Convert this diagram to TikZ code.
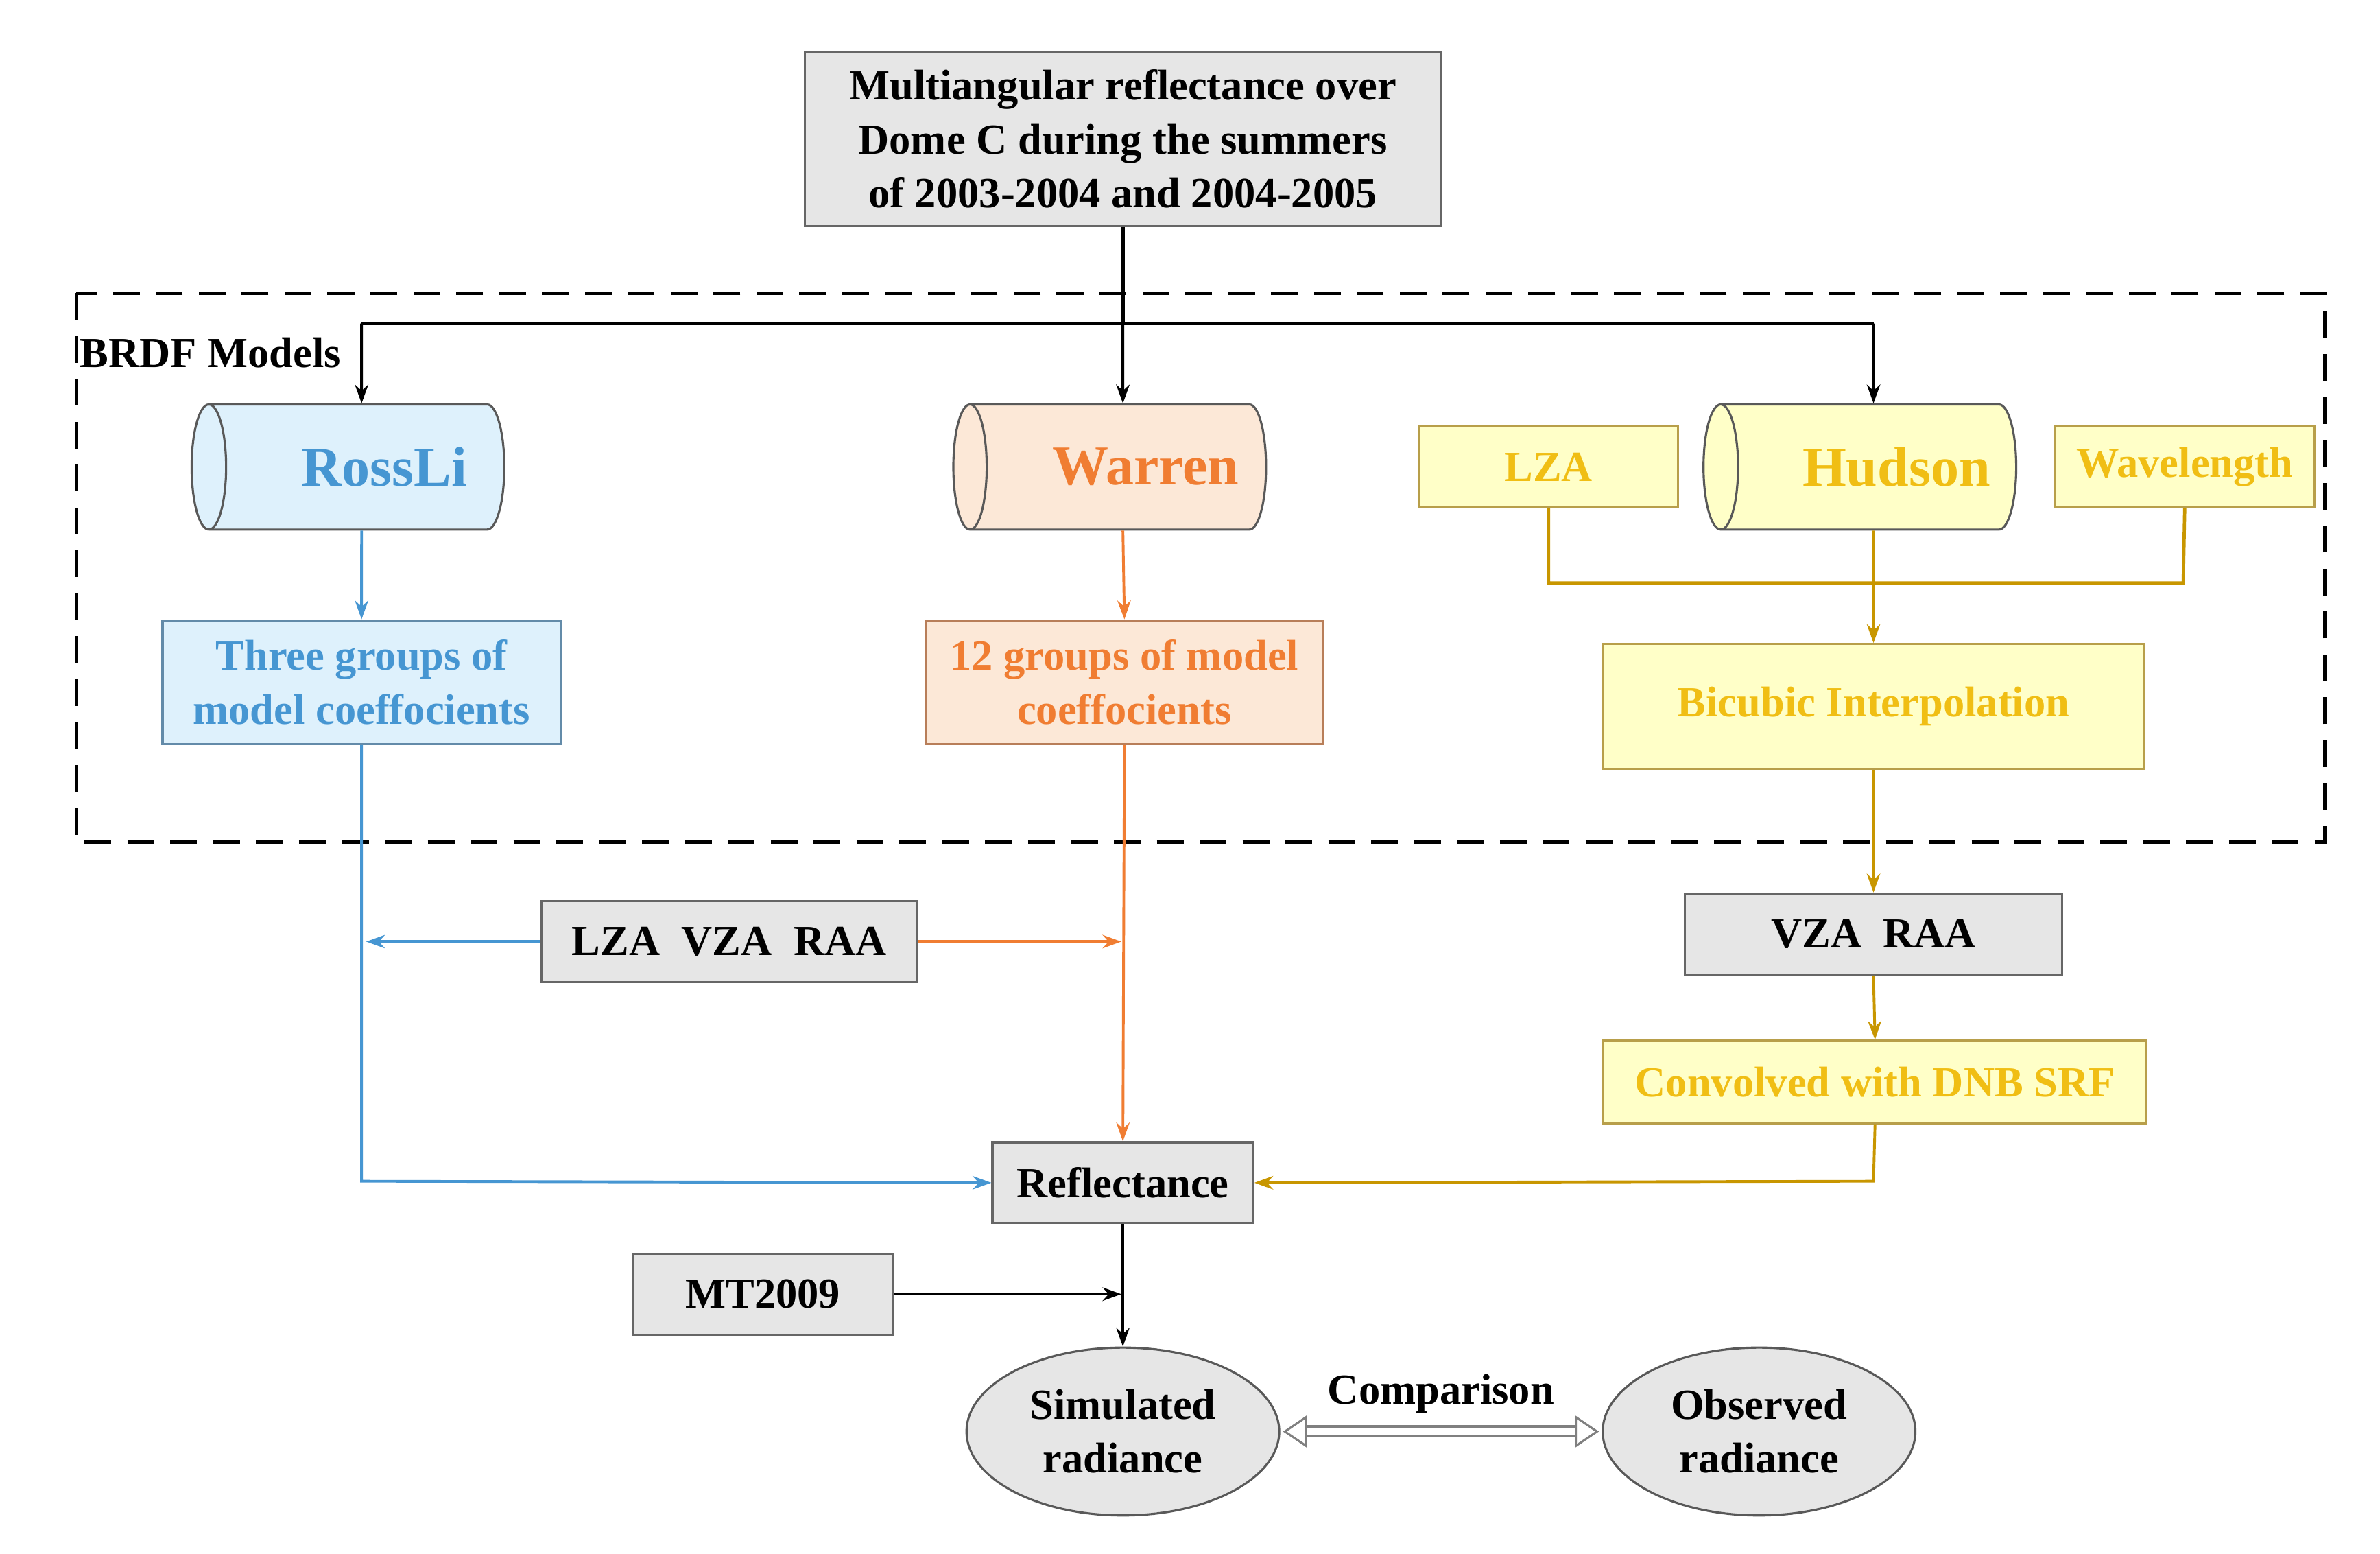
\documentclass[tikz,border=0pt]{standalone}
\usepackage{fontspec}
\setmainfont{Liberation Serif}
\usetikzlibrary{shapes.geometric,arrows.meta,calc}
\definecolor{bl}{RGB}{70,150,210}
\definecolor{blf}{RGB}{222,241,252}
\definecolor{or}{RGB}{240,125,50}
\definecolor{orf}{RGB}{252,232,215}
\definecolor{ye}{RGB}{240,190,20}
\definecolor{yef}{RGB}{255,255,200}
\definecolor{go}{RGB}{200,150,0}
\definecolor{gr}{RGB}{230,230,230}
\begin{document}
\begin{tikzpicture}[x=0.02cm,y=-0.02cm,
  txt/.style={font=\fontsize{16}{20}\selectfont\bfseries},
  box/.style={draw=gray!80!black,line width=0.8pt,txt,align=center,inner sep=2pt},
  gbox/.style={box,fill=gr,text=black},
  bbox/.style={box,fill=blf,text=bl,draw=bl!50!gray},
  obox/.style={box,fill=orf,text=or,draw=or!50!gray},
  ybox/.style={box,fill=yef,text=ye,draw=ye!50!gray},
  cyl/.style={cylinder,shape border rotate=180,aspect=0.6,minimum width=1.64cm,minimum height=4.1cm,draw=gray!70!black,line width=0.8pt,cylinder uses custom fill,font=\fontsize{21}{24}\selectfont\bfseries},
  ell/.style={ellipse,draw=gray!70!black,fill=gr,line width=0.8pt,minimum width=4.1cm,minimum height=2.2cm,txt,align=center},
  arr/.style={-{Stealth[length=7pt,width=5pt]},line width=1pt},
]
\useasboundingbox (0,0) rectangle (1560,1018);
\node[gbox,minimum width=8.34cm,minimum height=2.28cm] (top) at (736,91) {Multiangular reflectance over\\Dome C during the summers\\of 2003-2004 and 2004-2005};
\draw[dashed,line width=1.3pt,dash pattern=on 10pt off 6pt] (50,192) rectangle (1524,552);
\node[txt,anchor=west,inner sep=0] (brdf) at (52,231) {BRDF Models};
\node[cyl,cylinder end fill=blf,cylinder body fill=blf,text=bl] (ross) at (237,306) {\hspace*{0.6cm}RossLi};
\node[cyl,cylinder end fill=orf,cylinder body fill=orf,text=or] (war) at (736,306) {\hspace*{0.6cm}Warren};
\node[cyl,cylinder end fill=yef,cylinder body fill=yef,text=ye] (hud) at (1228,306) {\hspace*{0.6cm}Hudson};
\coordinate (j) at (736,212);
\coordinate (jl) at (237,212);
\coordinate (jr) at (1228,212);
\draw[line width=1.3pt] (top.south) -- (j);
\draw[line width=1.3pt] (jl) -- (jr);
\draw[arr] (jl) -- (ross.north);
\draw[arr] (j) -- (war.north);
\draw[arr] (jr) -- (hud.north);
\node[ybox,minimum width=3.4cm,minimum height=1.06cm] (lza) at (1015,306) {LZA};
\node[ybox,minimum width=3.4cm,minimum height=1.06cm] (wl) at (1432,306) {Wavelength};
\node[bbox,minimum width=5.22cm,minimum height=1.62cm] (tg) at (237,447) {Three groups of\\model coeffocients};
\node[obox,minimum width=5.2cm,minimum height=1.62cm] (tw) at (737,447) {12 groups of model\\coeffocients};
\node[ybox,minimum width=7.1cm,minimum height=1.64cm] (bic) at (1228,463) {Bicubic Interpolation};
\draw[arr,bl] (ross.south) -- (tg.north);
\draw[arr,or] (war.south) -- (tw.north);
\coordinate (h1) at (1015,382); \coordinate (h2) at (1431,382); \coordinate (h3) at (1228,382);
\draw[go,line width=1.2pt] (lza.south) -- (h1) -- (h2) -- (wl.south);
\draw[go,line width=1.2pt] (hud.south) -- (h3);
\draw[arr,go] (h3) -- (bic.north);
\node[gbox,minimum width=4.94cm,minimum height=1.06cm] (vr) at (1228,612) {VZA\ \ RAA};
\node[ybox,minimum width=7.12cm,minimum height=1.08cm] (conv) at (1229,709) {Convolved with DNB SRF};
\draw[arr,go] (bic.south) -- (vr.north);
\draw[arr,go] (vr.south) -- (conv.north);
\node[gbox,minimum width=3.42cm,minimum height=1.06cm] (ref) at (736,775) {Reflectance};
\coordinate (c1) at (1228,774);
\draw[arr,go] (conv.south) -- (c1) -- (ref.east);
\coordinate (b1) at (237,774);
\draw[arr,bl] (tg.south) -- (b1) -- (ref.west);
\node[gbox,minimum width=4.92cm,minimum height=1.06cm] (lvr) at (478,617) {LZA\ \ VZA\ \ RAA};
\coordinate (bl1) at (240,617); \coordinate (or1) at (735,617);
\draw[arr,bl] (lvr.west) -- (bl1);
\draw[arr,or] (lvr.east) -- (or1);
\draw[arr,or] (tw.south) -- (ref.north);
\node[gbox,minimum width=3.4cm,minimum height=1.06cm] (mt) at (500,848) {MT2009};
\coordinate (m1) at (735,848);
\draw[arr] (mt.east) -- (m1);
\node[ell] (sim) at (736,938) {Simulated\\radiance};
\node[ell] (obs) at (1153,938) {Observed\\radiance};
\draw[arr] (ref.south) -- (sim.north);
\draw[gray,double=white,double distance=3pt,line width=0.8pt,{Triangle[open,length=9pt,width=12pt]}-{Triangle[open,length=9pt,width=12pt]},shorten <=1pt,shorten >=1pt] (sim.east) -- (obs.west) node[midway,above=3pt,txt,text=black] (cmp) {Comparison};
\end{tikzpicture}
\end{document}
